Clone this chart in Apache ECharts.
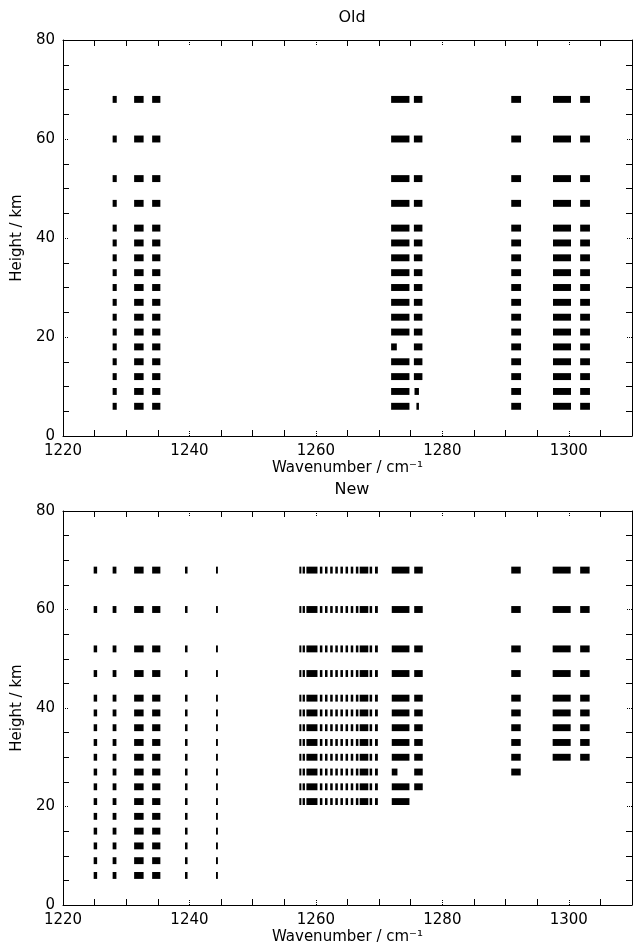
<!DOCTYPE html>
<html>
<head>
<meta charset="utf-8">
<script src="https://cdn.jsdelivr.net/npm/echarts@6/dist/echarts.min.js"></script>
<style>
  html, body { margin: 0; background: #fff; }
  #chart { width: 635px; height: 952px; }
</style>
</head>
<body>
<div id="chart"></div>
<script>
// retrieval levels, km
var heights = [6, 9, 12, 15, 18, 21, 24, 27, 30, 33, 36, 39, 42, 47, 52, 60, 68]

// microwindows: [start, end, lowest level used, levels left out]
var oldWindows = [
  [1227.85, 1228.5, 6, []],
  [1231.25, 1232.75, 6, []],
  [1234.1, 1235.4, 6, []],
  [1271.9, 1274.8, 6, [18]],
  [1275.5, 1276.85, 6, [6, 9]],
  [1290.9, 1292.45, 6, []],
  [1297.5, 1300.35, 6, []],
  [1301.8, 1303.35, 6, []]
]
// single pieces: [start, end, level]
var oldPieces = [
  [1271.9, 1272.8, 18],
  [1275.6, 1276.3, 9],
  [1275.9, 1276.3, 6]
]

var newWindows = [
  [1224.85, 1225.4, 6, []],
  [1227.85, 1228.45, 6, []],
  [1231.25, 1232.75, 6, []],
  [1234.1, 1235.4, 6, []],
  [1239.3, 1239.7, 6, []],
  [1244.2, 1244.5, 6, []],
  [1257.38, 1257.7, 21, []],
  [1257.9, 1258.27, 21, []],
  [1258.5, 1260.25, 21, []],
  [1260.63, 1261.03, 21, []],
  [1261.44, 1261.84, 21, []],
  [1262.26, 1262.66, 21, []],
  [1263.07, 1263.47, 21, []],
  [1263.88, 1264.28, 21, []],
  [1264.69, 1265.09, 21, []],
  [1265.51, 1265.91, 21, []],
  [1266.32, 1266.72, 21, []],
  [1266.93, 1268.29, 21, []],
  [1268.5, 1268.9, 21, []],
  [1269.35, 1269.8, 21, []],
  [1272.0, 1274.8, 21, [27]],
  [1275.55, 1276.9, 24, []],
  [1290.9, 1292.4, 27, []],
  [1297.45, 1300.3, 30, []],
  [1301.8, 1303.3, 30, []]
]
var newPieces = [
  [1272.0, 1272.9, 27]
]

var xLabels = [1220, 1240, 1260, 1280, 1300]
var xMajorTicks = [1240, 1260, 1280, 1300]
var xMinorTicks = [1225, 1230, 1235, 1245, 1250, 1255, 1265, 1270, 1275, 1285, 1290, 1295, 1305]

var font = 'DejaVu Sans'

function buildRects(windows, pieces) {
  var out = []
  windows.forEach(function (w) {
    heights.forEach(function (h) {
      if (h >= w[2] && w[3].indexOf(h) < 0) out.push([w[0], w[1], h])
    })
  })
  pieces.forEach(function (p) { out.push(p) })
  return out
}

function renderRect(params, api) {
  var a = api.coord([api.value(0), api.value(2) + 0.7])
  var b = api.coord([api.value(1), api.value(2) - 0.7])
  return {
    type: 'rect',
    shape: { x: a[0], y: a[1], width: b[0] - a[0], height: b[1] - a[1] },
    style: { fill: '#000' }
  }
}

function plain(v) { return String(v) }

var grids = [
  { left: 63, right: 3, top: 40, height: 396 },
  { left: 63, right: 3, top: 511, height: 394 }
]

var xAxes = []
var yAxes = []
grids.forEach(function (g, i) {
  var base = { gridIndex: i, type: 'value', min: 1220, max: 1310, splitLine: { show: false } }
  // bottom, labelled, dotted major ticks
  xAxes.push(Object.assign({}, base, {
    position: 'bottom',
    name: 'Wavenumber / cm⁻¹',
    nameLocation: 'middle',
    nameGap: 25,
    nameTextStyle: { fontFamily: font, fontSize: 15, color: '#000' },
    axisLine: { lineStyle: { color: '#000', width: 1 } },
    axisTick: { inside: true, length: 5, customValues: xMajorTicks, lineStyle: { type: 'dotted', color: '#000' } },
    axisLabel: { customValues: xLabels, formatter: plain, fontFamily: font, fontSize: 15, color: '#000', margin: 8 }
  }))
  // bottom, minor ticks
  xAxes.push(Object.assign({}, base, {
    position: 'bottom',
    axisLine: { show: false },
    axisTick: { inside: true, length: 6, customValues: xMinorTicks, lineStyle: { color: '#000' } },
    axisLabel: { show: false }
  }))
  // top
  xAxes.push(Object.assign({}, base, {
    position: 'top',
    axisLine: { lineStyle: { color: '#000', width: 1 } },
    axisTick: { inside: true, length: 5, customValues: xMajorTicks, lineStyle: { type: 'dotted', color: '#000' } },
    axisLabel: { show: false }
  }))
  xAxes.push(Object.assign({}, base, {
    position: 'top',
    axisLine: { show: false },
    axisTick: { inside: true, length: 6, customValues: xMinorTicks, lineStyle: { color: '#000' } },
    axisLabel: { show: false }
  }))

  var ybase = {
    gridIndex: i, type: 'value', min: 0, max: 80, interval: 20,
    splitLine: { show: false },
    axisLine: { show: true, lineStyle: { color: '#000', width: 1 } },
    axisTick: { inside: true, length: 5, lineStyle: { type: 'dotted', color: '#000' } },
    minorTick: { show: true, splitNumber: 4, length: 6, lineStyle: { color: '#000' } }
  }
  yAxes.push(Object.assign({}, ybase, {
    position: 'left',
    name: 'Height / km',
    nameLocation: 'middle',
    nameGap: 38,
    nameTextStyle: { fontFamily: font, fontSize: 15, color: '#000' },
    axisLabel: { formatter: plain, fontFamily: font, fontSize: 15, color: '#000', margin: 8 }
  }))
  yAxes.push(Object.assign({}, ybase, {
    position: 'right',
    axisLabel: { show: false }
  }))
})

var chart = echarts.init(document.getElementById('chart'))
chart.setOption({
  animation: false,
  backgroundColor: '#fff',
  title: [
    { text: 'Old', left: 347, top: 5, textAlign: 'center', textStyle: { fontFamily: font, fontSize: 16, fontWeight: 'normal', color: '#000' } },
    { text: 'New', left: 347, top: 477, textAlign: 'center', textStyle: { fontFamily: font, fontSize: 16, fontWeight: 'normal', color: '#000' } }
  ],
  grid: grids,
  xAxis: xAxes,
  yAxis: yAxes,
  series: [
    { type: 'custom', xAxisIndex: 0, yAxisIndex: 0, clip: true, renderItem: renderRect, data: buildRects(oldWindows, oldPieces) },
    { type: 'custom', xAxisIndex: 4, yAxisIndex: 2, clip: true, renderItem: renderRect, data: buildRects(newWindows, newPieces) }
  ]
})
</script>
</body>
</html>
